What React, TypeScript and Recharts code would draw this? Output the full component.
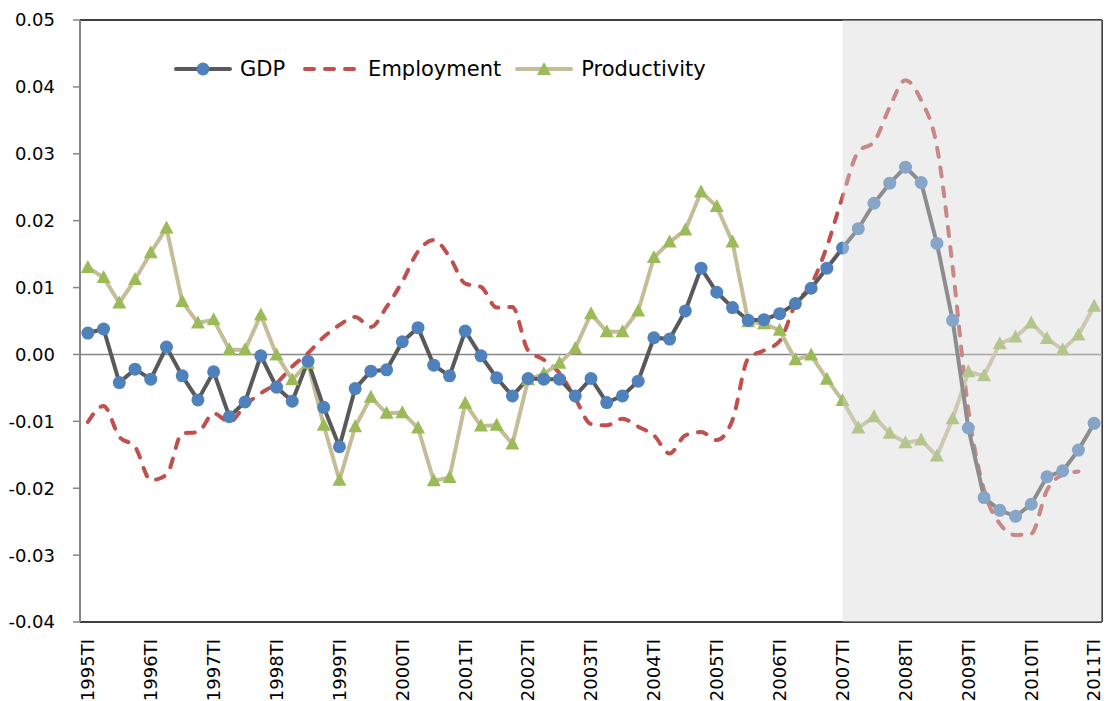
import {
  CartesianGrid,
  Line,
  LineChart,
  ReferenceArea,
  ReferenceLine,
  XAxis,
  YAxis
} from "recharts";

// quarterly labels 1995TI .. 2011TI
const years = [1995, 1996, 1997, 1998, 1999, 2000, 2001, 2002, 2003, 2004, 2005, 2006, 2007, 2008, 2009, 2010, 2011];
const quarterNames = ["TI", "TII", "TIII", "TIV"];

const gdp = [
  0.0032, 0.0038, -0.0042, -0.0022, -0.0037, 0.0011, -0.0032, -0.0068,
  -0.0026, -0.0093, -0.0071, -0.0002, -0.0049, -0.007, -0.001, -0.0079,
  -0.0138, -0.0051, -0.0025, -0.0023, 0.0019, 0.004, -0.0016, -0.0032,
  0.0035, -0.0002, -0.0035, -0.0062, -0.0036, -0.0037, -0.0037, -0.0062,
  -0.0036, -0.0072, -0.0062, -0.004, 0.0025, 0.0023, 0.0065, 0.0129,
  0.0093, 0.007, 0.0051, 0.0052, 0.0061, 0.0076, 0.0099, 0.0129,
  0.0159, 0.0188, 0.0226, 0.0256, 0.028, 0.0257, 0.0166, 0.0051,
  -0.011, -0.0214, -0.0233, -0.0242, -0.0224, -0.0183, -0.0174, -0.0143,
  -0.0103
];

const employment = [
  -0.0101, -0.0077, -0.0123, -0.0138, -0.0188, -0.018, -0.0118, -0.0116,
  -0.0088, -0.0101, -0.0076, -0.0058, -0.0043, -0.0018, 0.0002, 0.0026,
  0.0044, 0.0056, 0.0041, 0.0071, 0.0109, 0.0154, 0.0171, 0.0146,
  0.0106, 0.0101, 0.007, 0.0071, 0.0006, -0.0008, -0.0028, -0.0066,
  -0.0104, -0.0106, -0.0096, -0.0108, -0.0121, -0.0148, -0.0121, -0.0116,
  -0.0128, -0.0098, -0.0006, 0.0006, 0.002, 0.0075, 0.0104, 0.0161,
  0.0236, 0.0303, 0.0318, 0.037, 0.041, 0.038, 0.0311, 0.0131,
  -0.0083, -0.0203, -0.0253, -0.027, -0.0268, -0.0203, -0.018, -0.0175,
  null
];

const productivity = [
  0.013, 0.0115, 0.0077, 0.0112, 0.0152, 0.0189, 0.0079, 0.0047,
  0.0052, 0.0007, 0.0007, 0.0059, -0.0001, -0.0038, -0.0013, -0.0106,
  -0.0188, -0.0108, -0.0064, -0.0088, -0.0087, -0.011, -0.0189, -0.0184,
  -0.0073, -0.0107, -0.0106, -0.0134, -0.0038, -0.0029, -0.0013, 0.0009,
  0.0061, 0.0034, 0.0034, 0.0065, 0.0145, 0.0168, 0.0186, 0.0243,
  0.0221, 0.0168, 0.0049, 0.0046, 0.0036, -0.0008, -0.0001, -0.0037,
  -0.0069, -0.011, -0.0093, -0.0118, -0.0132, -0.0128, -0.0152, -0.0096,
  -0.0026, -0.0032, 0.0016, 0.0026, 0.0047, 0.0024, 0.0007, 0.0029,
  0.0072
];

const yTicks = [-0.04, -0.03, -0.02, -0.01, 0, 0.01, 0.02, 0.03, 0.04, 0.05];
const crisisStart = "2007TI";

const labels: string[] = [];
years.forEach((y) => quarterNames.forEach((q) => labels.push(`${y}${q}`)));
labels.length = gdp.length;

const data = labels.map((label, i) => ({
  idx: i,
  label,
  gdp: gdp[i],
  employment: employment[i],
  productivity: productivity[i]
}));

const xTicks = data.filter((d) => d.label.endsWith("TI") && !d.label.endsWith("TII")).map((d) => d.idx);
const crisisIdx = labels.indexOf(crisisStart);

const FONT = "'DejaVu Sans', sans-serif";
const GDP_LINE = "#595959";
const GDP_DOT = "#4f81bd";
const EMP = "#c0504d";
const PROD_LINE = "#c4bd97";
const PROD_DOT = "#9bbb59";

function Triangle(props: any) {
  const { cx, cy, index } = props;
  if (cx == null || cy == null) return null;
  const h = 13;
  const w = 14;
  return (
    <polygon
      key={`tri-${index}`}
      points={`${cx},${cy - h / 2 - 1} ${cx - w / 2},${cy + h / 2 - 1} ${cx + w / 2},${cy + h / 2 - 1}`}
      fill={PROD_DOT}
    />
  );
}

function QuarterTick(props: any) {
  const { x, y, payload } = props;
  return (
    <text
      x={x}
      y={y}
      dy="0.35em"
      transform={`rotate(-90 ${x} ${y})`}
      textAnchor="end"
      fontFamily={FONT}
      fontSize={18}
      fill="#000"
    >
      {labels[payload.value]}
    </text>
  );
}

function LegendRow() {
  const item = (sample: React.ReactNode, text: string, gapAfter: number) => (
    <span style={{ display: "inline-flex", alignItems: "center", gap: 8, marginRight: gapAfter }}>
      <svg width={58} height={16}>{sample}</svg>
      <span>{text}</span>
    </span>
  );
  return (
    <div
      style={{
        position: "absolute",
        left: 174,
        top: 56,
        display: "flex",
        fontFamily: FONT,
        fontSize: 21,
        color: "#000",
        lineHeight: "26px",
        whiteSpace: "nowrap"
      }}
    >
      {item(
        <>
          <line x1={2} y1={8} x2={56} y2={8} stroke={GDP_LINE} strokeWidth={4} strokeLinecap="round" />
          <circle cx={29} cy={8} r={6.5} fill={GDP_DOT} />
        </>,
        "GDP",
        17
      )}
      {item(
        <line x1={3} y1={8} x2={55} y2={8} stroke={EMP} strokeWidth={4} strokeLinecap="round" strokeDasharray="9 11" />,
        "Employment",
        14
      )}
      {item(
        <>
          <line x1={2} y1={8} x2={56} y2={8} stroke={PROD_LINE} strokeWidth={4} strokeLinecap="round" />
          <polygon points="29,1 22,14 36,14" fill={PROD_DOT} />
        </>,
        "Productivity",
        0
      )}
    </div>
  );
}

export default function App() {
  return (
    <div style={{ position: "absolute", left: 0, top: 0, width: 1106, height: 701, background: "#fff" }}>
      <LineChart width={1106} height={701} data={data} margin={{ top: 20, right: 4, bottom: 0, left: 0 }}>
        <CartesianGrid horizontal={false} vertical={false} />
        <XAxis
          type="number"
          dataKey="idx"
          domain={[-0.5, 64.5]}
          ticks={xTicks}
          interval={0}
          height={79}
          tickSize={0}
          tickMargin={17}
          tickLine={false}
          axisLine={{ stroke: "#000", strokeWidth: 1.5 }}
          tick={<QuarterTick />}
        />
        <YAxis
          type="number"
          domain={[-0.04, 0.05]}
          ticks={yTicks}
          width={80}
          tickSize={7}
          tickMargin={18}
          tickFormatter={(v: number) => v.toFixed(2)}
          tick={{ fontFamily: FONT, fontSize: 18, fill: "#000" }}
          tickLine={{ stroke: "#868686", strokeWidth: 1.5 }}
          axisLine={{ stroke: "#868686", strokeWidth: 2 }}
        />
        <ReferenceLine y={0.05} stroke="#000" strokeWidth={1.5} />
        <ReferenceLine x={64.5} stroke="#000" strokeWidth={1.5} />
        <ReferenceLine y={0} stroke="#868686" strokeWidth={1.5} />
        <Line
          dataKey="employment"
          name="Employment"
          type="monotone"
          stroke={EMP}
          strokeWidth={4}
          strokeDasharray="9 11"
          strokeLinecap="round"
          dot={false}
          isAnimationActive={false}
        />
        <Line
          dataKey="productivity"
          name="Productivity"
          type="linear"
          stroke={PROD_LINE}
          strokeWidth={4}
          dot={<Triangle />}
          isAnimationActive={false}
        />
        <Line
          dataKey="gdp"
          name="GDP"
          type="linear"
          stroke={GDP_LINE}
          strokeWidth={4}
          dot={{ r: 6.5, fill: GDP_DOT, stroke: "none", strokeWidth: 0 }}
          isAnimationActive={false}
        />
        {/* crisis period, laid over the series so they show through faded */}
        <ReferenceArea
          x1={crisisIdx}
          x2={64.5}
          y1={-0.04}
          y2={0.05}
          fill="#d6d6d6"
          fillOpacity={0.42}
          stroke="none"
          zIndex={1000}
        />
      </LineChart>
      <LegendRow />
    </div>
  );
}
